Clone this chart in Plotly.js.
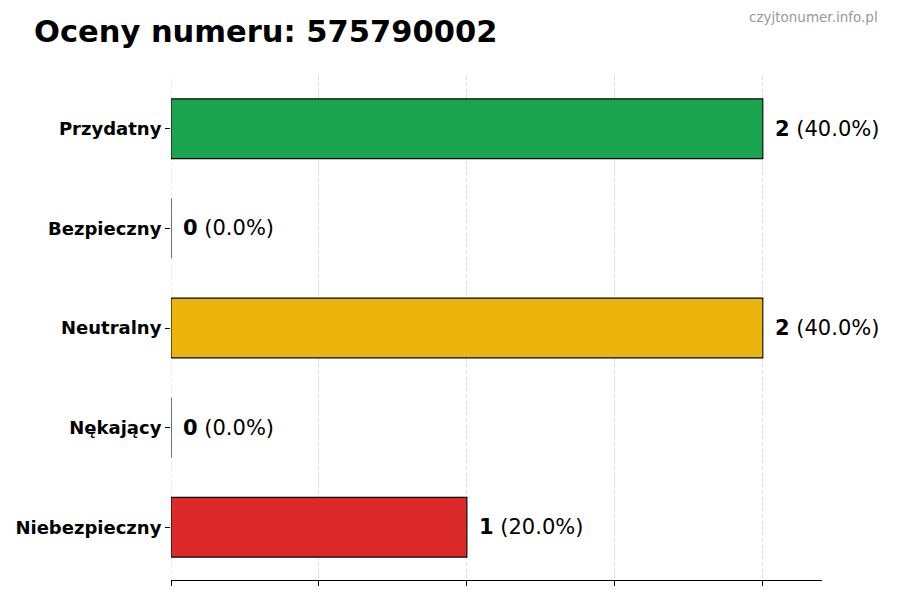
<!DOCTYPE html>
<html>
<head>
<meta charset="utf-8">
<script src="https://cdn.plot.ly/plotly-3.0.1.min.js"></script>
<style>
  html, body { margin: 0; padding: 0; background: #fff; }
  #chart { width: 900px; height: 600px; }
</style>
</head>
<body>
<div id="chart"></div>
<script>
// ratings of the number, listed top to bottom as drawn
var categories = ['Przydatny', 'Bezpieczny', 'Neutralny', 'Nękający', 'Niebezpieczny'];
var counts = [2, 0, 2, 0, 1];
var barColors = ['#16a34a', '#6b7280', '#eab308', '#f97316', '#dc2626'];
var phoneNumber = '575790002';

var total = counts.reduce(function (a, b) { return a + b; }, 0);

var bars = {
  type: 'bar',
  orientation: 'h',
  x: counts,
  y: categories,
  width: 0.6,
  opacity: 0.98,
  marker: { color: barColors, line: { color: '#000', width: 1.1 } },
  hoverinfo: 'none'
};

// value labels to the right of every bar
var labels = categories.map(function (c, i) {
  var pct = total ? (counts[i] / total * 100).toFixed(1) : '0.0';
  return {
    x: counts[i], y: c, xref: 'x', yref: 'y',
    text: '<b>' + counts[i] + '</b> (' + pct + '%)',
    showarrow: false, xanchor: 'left', yanchor: 'middle', xshift: 10,
    font: { family: 'DejaVu Sans', size: 21, color: '#000' }
  };
});

labels.push({
  text: 'czyjtonumer.info.pl',
  xref: 'paper', yref: 'paper', x: 1.089, y: 1.117,
  xanchor: 'right', yanchor: 'middle', showarrow: false,
  font: { family: 'DejaVu Sans', size: 13.5, color: '#999' }
});

var layout = {
  width: 900, height: 600,
  margin: { l: 171, r: 78, t: 76, b: 20 },
  paper_bgcolor: '#fff', plot_bgcolor: '#fff',
  font: { family: 'DejaVu Sans', color: '#000' },
  showlegend: false,
  title: {
    text: '<b>Oceny numeru: ' + phoneNumber + '</b>',
    x: 34 / 900, xanchor: 'left', xref: 'container',
    y: 1 - 31 / 600, yanchor: 'middle', yref: 'container',
    font: { family: 'DejaVu Sans', size: 30.5, color: '#000' }
  },
  xaxis: {
    range: [0, 2.2], dtick: 0.5, tick0: 0,
    showticklabels: false,
    ticks: 'outside', ticklen: 5, tickcolor: '#000', tickwidth: 1,
    showline: true, linecolor: '#000', linewidth: 1.2,
    showgrid: true, gridcolor: '#d6d6d6', gridwidth: 0.8, griddash: '4px,2px',
    zeroline: false, fixedrange: true
  },
  yaxis: {
    type: 'category',
    range: [4.53, -0.53],
    ticks: 'outside', ticklen: 5, tickcolor: '#000', tickwidth: 1,
    showline: false, showgrid: false, zeroline: false,
    tickfont: { family: 'DejaVu Sans', size: 18, weight: 'bold', color: '#000' },
    fixedrange: true
  },
  // the grid line at x = 0 sits on the plot edge, where Plotly leaves it out
  shapes: [{
    type: 'line', xref: 'x', yref: 'paper', x0: 0, x1: 0, y0: 0, y1: 1,
    layer: 'below', line: { color: '#d6d6d6', width: 0.8, dash: '4px,2px' }
  }],
  annotations: labels
};

Plotly.newPlot('chart', [bars], layout, { displayModeBar: false, staticPlot: true });
</script>
</body>
</html>
